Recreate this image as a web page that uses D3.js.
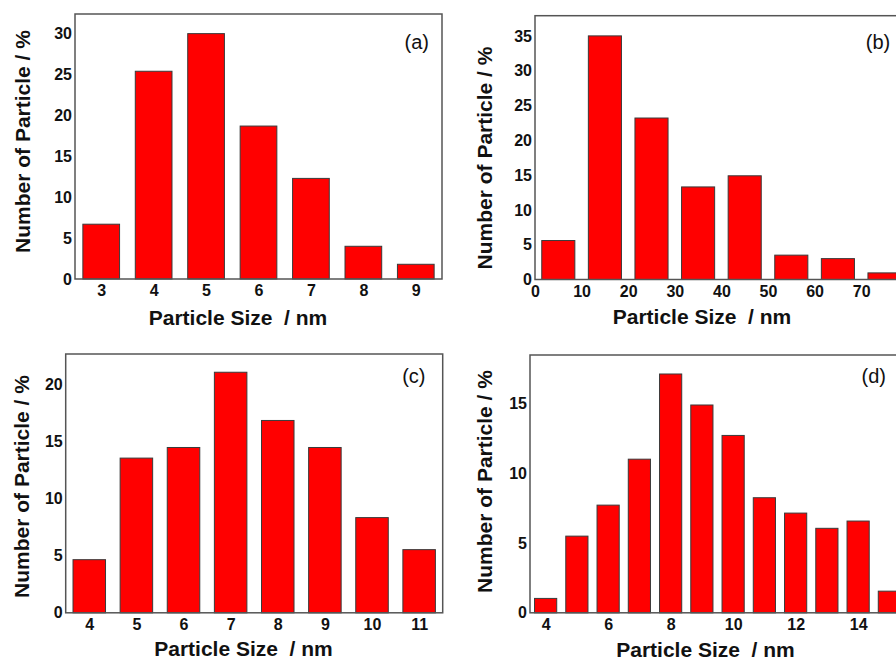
<!DOCTYPE html>
<html>
<head>
<meta charset="utf-8">
<script src="https://cdn.jsdelivr.net/npm/d3@7"></script>
<style>
  html, body { margin: 0; padding: 0; background: #fff; }
  svg { display: block; }
  text { font-family: "Liberation Sans", Arial, sans-serif; fill: #111; }
</style>
</head>
<body>
<svg id="chart" width="896" height="659"></svg>
<script>
// ---- Data ----
const sizesA = [3, 4, 5, 6, 7, 8, 9];
const valuesA = [6.7, 25.4, 30.0, 18.7, 12.3, 4.0, 1.8];
const xTicksA = [3, 4, 5, 6, 7, 8, 9];
const yTicksA = [0, 5, 10, 15, 20, 25, 30];

const sizesB = [5, 15, 25, 35, 45, 55, 65, 75];
const valuesB = [5.6, 35.0, 23.2, 13.3, 14.9, 3.5, 3.0, 0.95];
const xTicksB = [0, 10, 20, 30, 40, 50, 60, 70];
const yTicksB = [0, 5, 10, 15, 20, 25, 30, 35];

const sizesC = [4, 5, 6, 7, 8, 9, 10, 11];
const valuesC = [4.66, 13.57, 14.5, 21.1, 16.87, 14.5, 8.35, 5.54];
const xTicksC = [4, 5, 6, 7, 8, 9, 10, 11];
const yTicksC = [0, 5, 10, 15, 20];

const sizesD = [4, 5, 6, 7, 8, 9, 10, 11, 12, 13, 14, 15];
const valuesD = [1.03, 5.49, 7.71, 11.0, 17.1, 14.88, 12.7, 8.24, 7.14, 6.05, 6.57, 1.55];
const xTicksD = [4, 6, 8, 10, 12, 14];
const yTicksD = [0, 5, 10, 15];

const panelLabels = ["(a)", "(b)", "(c)", "(d)"];
const xTitle = "Particle Size  / nm";
const yTitle = "Number of Particle / %";

// ---- Layout ----
const panels = [
  { sizes: sizesA, values: valuesA, xTicks: xTicksA, yTicks: yTicksA, label: panelLabels[0],
    left: 75, right: 442, top: 14, bottom: 279, xDom: [2.5, 9.5], yDom: [0, 32.4], barW: 0.7,
    labelPos: [416.7, 49], xTitlePos: [238, 325], yTitlePos: [29.5, 141.5] },
  { sizes: sizesB, values: valuesB, xTicks: xTicksB, yTicks: yTicksB, label: panelLabels[1],
    left: 535, right: 907.8, top: 15.7, bottom: 279.5, xDom: [0, 80], yDom: [0, 37.9], barW: 7.1,
    labelPos: [878, 49], xTitlePos: [702, 323.5], yTitlePos: [491.5, 158] },
  { sizes: sizesC, values: valuesC, xTicks: xTicksC, yTicks: yTicksC, label: panelLabels[2],
    left: 65.7, right: 442.7, top: 354, bottom: 612.8, xDom: [3.5, 11.5], yDom: [0, 22.7], barW: 0.69,
    labelPos: [413.8, 383], xTitlePos: [243.5, 655.5], yTitlePos: [28.5, 486.5] },
  { sizes: sizesD, values: valuesD, xTicks: xTicksD, yTicks: yTicksD, label: panelLabels[3],
    left: 530, right: 905, top: 355, bottom: 612.8, xDom: [3.5, 15.5], yDom: [0, 18.46], barW: 0.71,
    labelPos: [873.7, 383], xTitlePos: [705.5, 656.5], yTitlePos: [491.5, 481.5] }
];

const svg = d3.select("#chart");

panels.forEach(p => {
  const g = svg.append("g");
  const x = d3.scaleLinear().domain(p.xDom).range([p.left, p.right]);
  const y = d3.scaleLinear().domain(p.yDom).range([p.bottom, p.top]);

  // bars
  g.selectAll("rect.bar")
    .data(p.sizes.map((s, i) => ({ s, v: p.values[i] })))
    .join("rect")
    .attr("class", "bar")
    .attr("x", d => x(d.s - p.barW / 2))
    .attr("width", d => x(d.s + p.barW / 2) - x(d.s - p.barW / 2))
    .attr("y", d => y(d.v))
    .attr("height", d => y(0) - y(d.v))
    .attr("fill", "#ff0000")
    .attr("stroke", "#3a3a3a")
    .attr("stroke-width", 1);

  // frame
  g.append("rect")
    .attr("x", p.left).attr("y", p.top)
    .attr("width", p.right - p.left).attr("height", p.bottom - p.top)
    .attr("fill", "none")
    .attr("stroke", "#555")
    .attr("stroke-width", 1.5);

  // axes
  const xAxis = g.append("g")
    .attr("transform", `translate(0,${p.bottom})`)
    .call(d3.axisBottom(x).tickValues(p.xTicks).tickSize(0).tickPadding(6).tickFormat(d3.format("d")));
  xAxis.select(".domain").remove();
  xAxis.selectAll("text").attr("font-size", 16).attr("font-weight", "bold")
    .style("font-family", "'Liberation Sans', Arial, sans-serif").attr("fill", "#111");

  const yAxis = g.append("g")
    .attr("transform", `translate(${p.left},0)`)
    .call(d3.axisLeft(y).tickValues(p.yTicks).tickSize(0).tickPadding(3).tickFormat(d3.format("d")));
  yAxis.select(".domain").remove();
  yAxis.selectAll("text").attr("font-size", 16).attr("font-weight", "bold")
    .style("font-family", "'Liberation Sans', Arial, sans-serif").attr("fill", "#111");

  // titles
  g.append("text")
    .attr("x", p.xTitlePos[0]).attr("y", p.xTitlePos[1])
    .attr("text-anchor", "middle")
    .attr("font-size", 21).attr("font-weight", "bold")
    .attr("xml:space", "preserve")
    .style("white-space", "pre")
    .text(xTitle);

  g.append("text")
    .attr("transform", `translate(${p.yTitlePos[0]},${p.yTitlePos[1]}) rotate(-90)`)
    .attr("text-anchor", "middle")
    .attr("font-size", 21).attr("font-weight", "bold")
    .text(yTitle);

  g.append("text")
    .attr("x", p.labelPos[0]).attr("y", p.labelPos[1])
    .attr("text-anchor", "middle")
    .attr("font-size", 20)
    .text(p.label);
});
</script>
</body>
</html>
